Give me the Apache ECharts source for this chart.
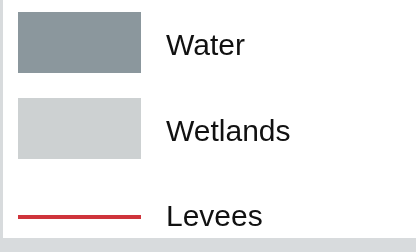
<!DOCTYPE html>
<html>
<head>
<meta charset="utf-8">
<script src="https://cdn.jsdelivr.net/npm/echarts@6/dist/echarts.min.js"></script>
<style>
  html, body { margin: 0; padding: 0; }
  body { width: 416px; height: 252px; background: #d8dbdd; position: relative; overflow: hidden; }
  #fondo { position: absolute; left: 3px; top: 0; width: 413px; height: 238px; background: #fff; }
  #grafico { position: absolute; left: 0; top: 0; width: 416px; height: 252px; }
</style>
</head>
<body>
<div id="fondo"></div>
<div id="grafico"></div>
<script>
  // nombres de la leyenda
  const areas = ["Water", "Wetlands"];
  const lineas = ["Levees"];
  // colores
  const coloresAreas = ["#8b979d", "#cdd1d2"];
  const colorLinea = "#cf343b";

  const container = document.querySelector("#grafico");
  const miGrafico = echarts.init(container, null, { renderer: "canvas" });

  const series = [];
  areas.forEach((nombre, i) => {
    series.push({ name: nombre, type: "bar", data: [], itemStyle: { color: coloresAreas[i] } });
  });
  lineas.forEach((nombre) => {
    series.push({
      name: nombre,
      type: "line",
      data: [],
      symbol: "none",
      itemStyle: { color: colorLinea },
      lineStyle: { color: colorLinea, width: 4 },
    });
  });

  // el texto va un poco mas abajo que el centro del icono
  const fuente = {
    fontFamily: "Liberation Sans, Arial, sans-serif",
    fontSize: 30,
    color: "#111111",
  };
  const texto = Object.assign({}, fuente, {
    rich: {
      t: Object.assign({}, fuente, { padding: [8, 0, 0, 20] }),
      l: Object.assign({}, fuente, { padding: [2, 0, 0, 20] }),
    },
  });
  const comun = {
    orient: "vertical",
    left: 13,
    itemWidth: 123,
    itemHeight: 61,
    itemGap: 25,
    selectedMode: false,
    symbolKeepAspect: true,
    textStyle: texto,
  };

  const option = {
    backgroundColor: "transparent",
    animation: false,
    xAxis: { show: false, type: "category", data: [] },
    yAxis: { show: false, type: "value" },
    legend: [
      Object.assign({}, comun, {
        top: 7,
        formatter: (n) => "{t|" + n + "}",
        data: areas.map((n) => ({ name: n, icon: "rect" })),
      }),
      // linea fina como icono (sin simbolo)
      Object.assign({}, comun, {
        top: 198,
        formatter: (n) => "{l|" + n + "}",
        data: lineas.map((n) => ({ name: n, icon: "path://M0,0H127V4H0Z" })),
      }),
    ],
    series: series,
  };
  miGrafico.setOption(option);
</script>
</body>
</html>
